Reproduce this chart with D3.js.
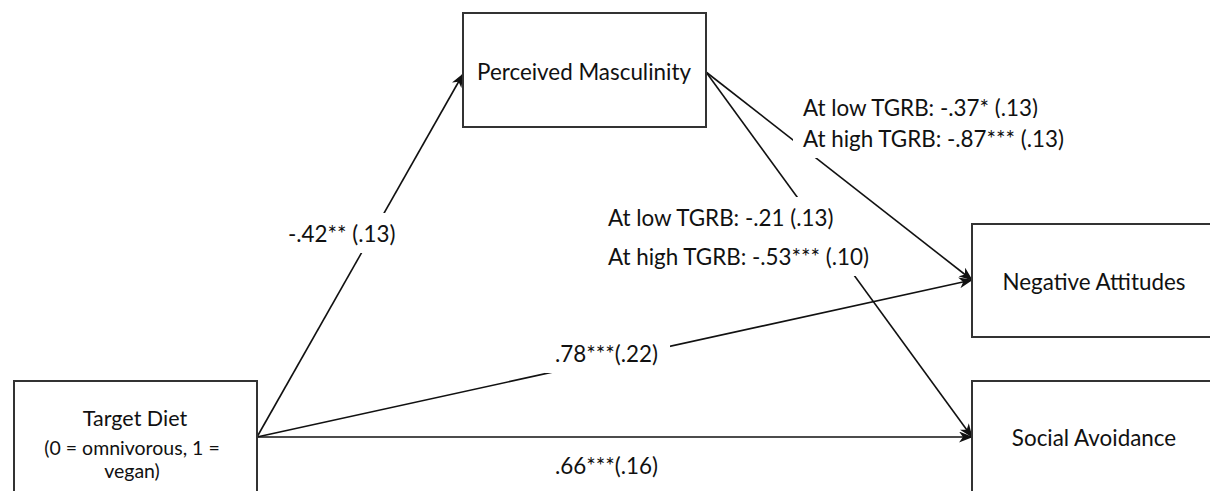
<!DOCTYPE html>
<html>
<head>
<meta charset="utf-8">
<script src="https://cdn.jsdelivr.net/npm/d3@7"></script>
<style>
  html, body { margin: 0; padding: 0; background: #fff; }
  svg { display: block; }
  text { font-family: Lato, "Open Sans", sans-serif; fill: #111; }
</style>
</head>
<body>
<div id="chart"></div>
<script>
// variables of the mediation model
const nodeNames = ["Target Diet", "Perceived Masculinity", "Negative Attitudes", "Social Avoidance"];
const nodeSubtitle = ["(0 = omnivorous, 1 =", "vegan)"];

// paths: from -> to, with coefficient (SE) labels
const pathFrom = ["Target Diet", "Target Diet", "Target Diet", "Perceived Masculinity", "Perceived Masculinity"];
const pathTo = ["Perceived Masculinity", "Negative Attitudes", "Social Avoidance", "Negative Attitudes", "Social Avoidance"];
const pathLabels = [
    ["-.42** (.13)"],
    [".78***(.22)"],
    [".66***(.16)"],
    ["At low TGRB: -.37* (.13)", "At high TGRB: -.87*** (.13)"],
    ["At low TGRB: -.21 (.13)", "At high TGRB: -.53*** (.10)"]
];

const width = 1210, height = 491;

// box geometry (x, y, w, h), text centre and anchor heights for arrows
const boxes = {
    "Target Diet":           { x: 14,  y: 381, w: 243, h: 140, tx: 135,  ty: 418, outY: 437, inY: 437, size: 21.5 },
    "Perceived Masculinity": { x: 463, y: 13,  w: 243, h: 114, tx: 584,  ty: 71,  outY: 72,  inY: 74,  size: 22.4 },
    "Negative Attitudes":    { x: 972, y: 224, w: 250, h: 113, tx: 1094, ty: 281, outY: 280, inY: 280, size: 22.4 },
    "Social Avoidance":      { x: 972, y: 381, w: 250, h: 140, tx: 1094, ty: 437, outY: 437, inY: 437, size: 22.4 }
};

// where each path label sits: left x, first line y, line gap, white backing or not
const labelPos = [
    { x: 288, y: 233, gap: 0,  bg: true },
    { x: 555, y: 353, gap: 0,  bg: true },
    { x: 555, y: 465, gap: 0,  bg: false },
    { x: 803, y: 107, gap: 31, bg: true },
    { x: 608, y: 217, gap: 39, bg: true }
];

const svg = d3.select("#chart").append("svg")
    .attr("width", width)
    .attr("height", height);

svg.append("defs").append("marker")
    .attr("id", "arrow")
    .attr("viewBox", "0 0 14 11")
    .attr("refX", 13)
    .attr("refY", 5.5)
    .attr("markerWidth", 14)
    .attr("markerHeight", 11)
    .attr("markerUnits", "userSpaceOnUse")
    .attr("orient", "auto")
    .append("path")
    .attr("d", "M0,0 L14,5.5 L0,11 L4,5.5 Z")
    .attr("fill", "#111");

const edges = pathFrom.map((f, i) => {
    const a = boxes[f], b = boxes[pathTo[i]];
    return { x1: a.x + a.w, y1: a.outY, x2: b.x, y2: b.inY, label: pathLabels[i], pos: labelPos[i] };
});

// arrows
svg.append("g").attr("class", "paths")
    .selectAll("line")
    .data(edges)
    .enter()
    .append("line")
    .attr("x1", d => d.x1)
    .attr("y1", d => d.y1)
    .attr("x2", d => d.x2)
    .attr("y2", d => d.y2)
    .attr("stroke", "#111")
    .attr("stroke-width", 1.6)
    .attr("marker-end", "url(#arrow)");

// boxes
const nodeG = svg.append("g").attr("class", "nodes")
    .selectAll("g")
    .data(nodeNames)
    .enter()
    .append("g");

nodeG.append("rect")
    .attr("x", d => boxes[d].x)
    .attr("y", d => boxes[d].y)
    .attr("width", d => boxes[d].w)
    .attr("height", d => boxes[d].h)
    .attr("fill", "#fff")
    .attr("stroke", "#333")
    .attr("stroke-width", 2);

nodeG.append("text")
    .attr("x", d => boxes[d].tx)
    .attr("y", d => boxes[d].ty)
    .attr("text-anchor", "middle")
    .attr("dominant-baseline", "central")
    .style("font-size", d => boxes[d].size + "px")
    .text(d => d);

// subtitle of the predictor
svg.append("g")
    .selectAll("text")
    .data(nodeSubtitle)
    .enter()
    .append("text")
    .attr("x", 132)
    .attr("y", (d, i) => 447 + i * 23)
    .attr("text-anchor", "middle")
    .attr("dominant-baseline", "central")
    .style("font-size", "19.5px")
    .text(d => d);

// path labels, each line on its own white backing
const lines = [];
edges.forEach(d => {
    d.label.forEach((t, i) => lines.push({ t, x: d.pos.x, y: d.pos.y + i * d.pos.gap, bg: d.pos.bg }));
});

const lab = svg.append("g").attr("class", "labels")
    .selectAll("g")
    .data(lines)
    .enter()
    .append("g");

const bgRect = lab.append("rect").attr("fill", "#fff");

const labText = lab.append("text")
    .attr("x", d => d.x)
    .attr("y", d => d.y)
    .attr("dominant-baseline", "central")
    .style("font-size", "22.4px")
    .text(d => d.t);

labText.each(function (d) {
    const w = this.getComputedTextLength();
    d.bw = d.bg ? w + 22 : 0;
});

bgRect
    .attr("x", d => d.x - 10)
    .attr("y", d => d.y - 20)
    .attr("width", d => d.bw)
    .attr("height", d => d.bg ? 40 : 0);
</script>
</body>
</html>
